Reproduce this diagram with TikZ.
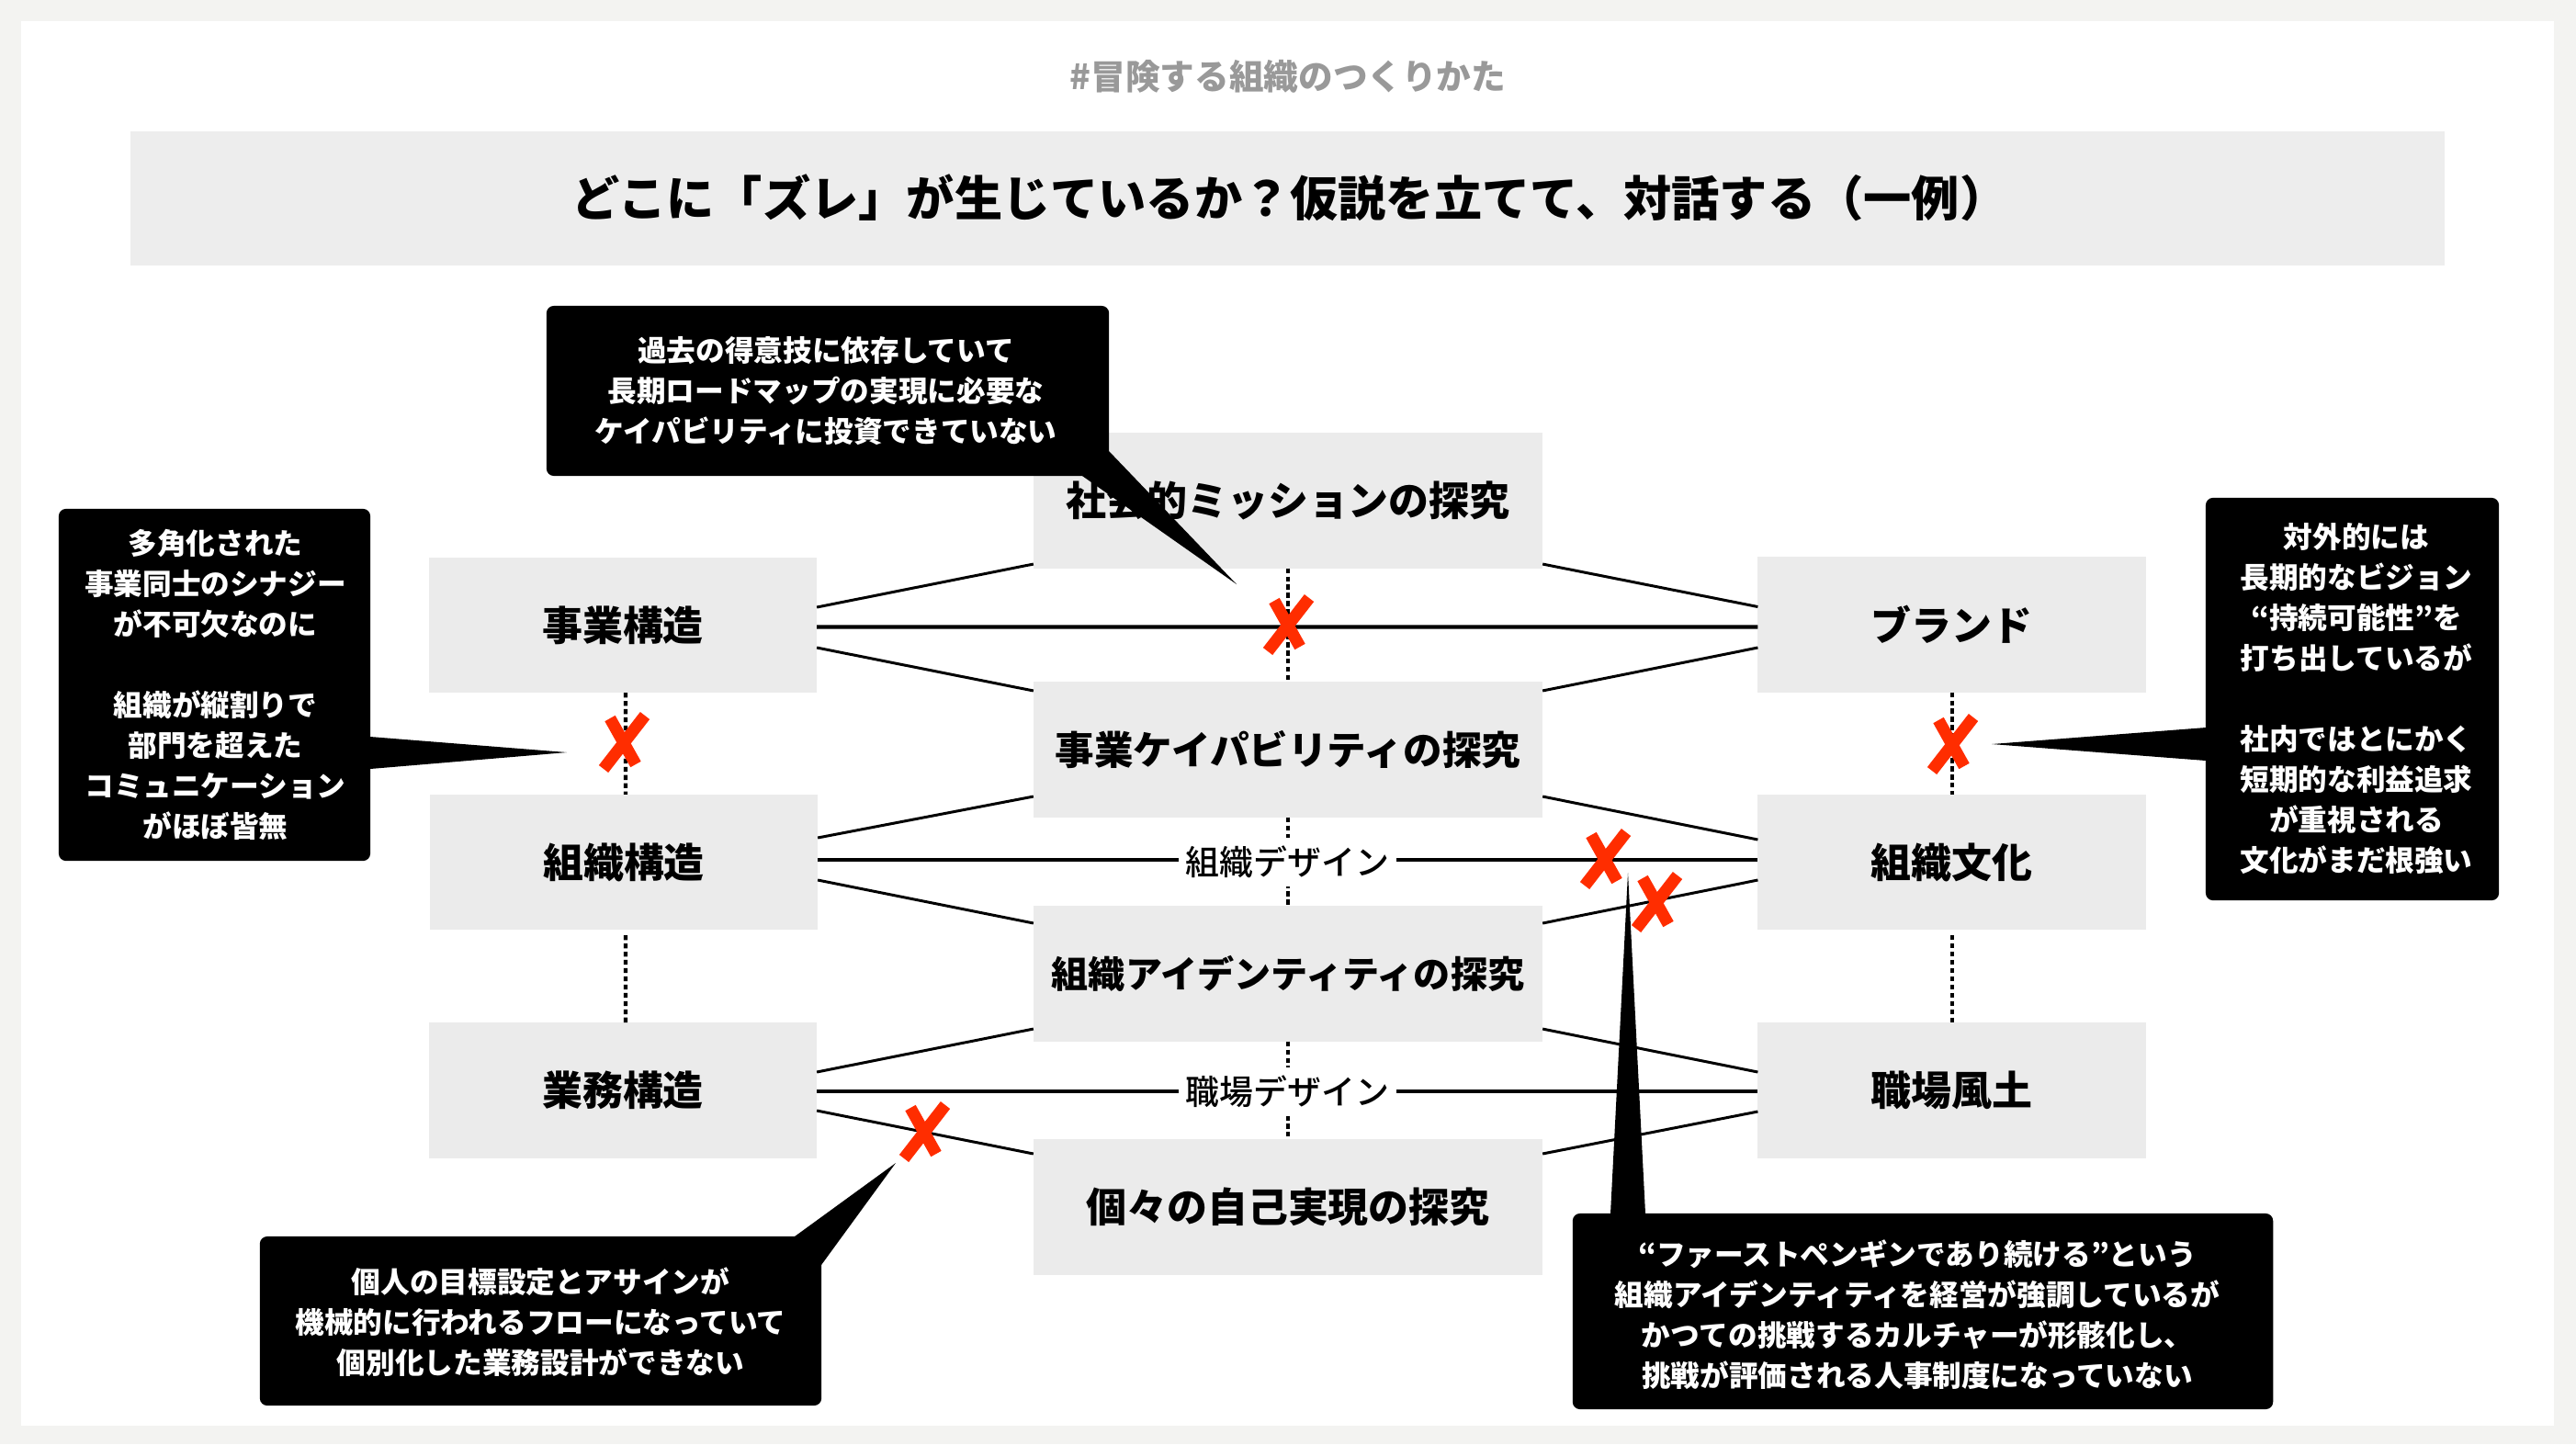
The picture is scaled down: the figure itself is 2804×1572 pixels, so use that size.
\documentclass[tikz,border=0pt]{standalone}
\usepackage{fontspec}
\setmainfont{Noto Sans CJK JP}
\newfontfamily\jpmed{Noto Sans CJK JP Medium}
\definecolor{pagebg}{HTML}{F3F3F1}
\definecolor{boxgray}{HTML}{EBEBEB}
\definecolor{bandgray}{HTML}{EDEDED}
\definecolor{markred}{HTML}{FF2D00}
\definecolor{topgray}{HTML}{999999}
\tikzset{
  lbox/.style={fill=boxgray,inner sep=0pt,outer sep=0pt,minimum width=4.22cm,minimum height=1.47cm,font=\fontsize{12.5}{15}\selectfont\bfseries},
  cbox/.style={lbox,minimum width=5.54cm},
  slant/.style={line width=0.85pt},
  flat/.style={line width=1.15pt},
  dots/.style={line width=1.15pt,dash pattern=on 1.5pt off 1.05pt},
  callout/.style={fill=black,rounded corners=0.08cm,inner sep=0pt,outer sep=0pt},
  callouttext/.style={text=white,inner sep=0pt,align=center,font=\fontsize{9}{12.5}\selectfont\bfseries},
  tailfill/.style={fill=black},
  midlabel/.style={fill=white,inner sep=0pt,minimum width=2.37cm,minimum height=0.53cm,font=\fontsize{10.5}{12}\selectfont\jpmed},
  pics/crossmark/.style={code={
    \draw[markred,line width=3.7pt] (-15,-26) -- (13,24);
    \draw[markred,line width=3.7pt] (23,-29) -- (-22,29);
  }}
}
\begin{document}
\begin{tikzpicture}[x=0.01cm,y=-0.01cm]
\useasboundingbox (0,0) rectangle (2804,1572);
\fill[pagebg] (0,0) rectangle (2804,1572);
\fill[white] (23,23) rectangle (2780,1552);
\node[font=\fontsize{10.7}{12}\selectfont\bfseries,text=topgray] (tag) at (1402,83) {\#冒険する組織のつくりかた};
\node[fill=bandgray,inner sep=0pt,minimum width=25.17cm,minimum height=1.46cm] (band) at (1401.5,216) {};
\node[font=\fontsize{14.85}{18}\selectfont\bfseries] (title) at (1404,215) {どこに「ズレ」が生じているか？仮説を立てて、対話する（一例）};
% boxes
\node[lbox] (jigyo) at (678,680.5) {事業構造};
\node[lbox] (soshiki) at (679,938.5) {組織構造};
\node[lbox] (gyomu) at (678,1187) {業務構造};
\node[cbox] (mission) at (1402,545) {社会的ミッションの探究};
\node[cbox,font=\fontsize{12.1}{15}\selectfont\bfseries] (capa) at (1402,816) {事業ケイパビリティの探究};
\node[cbox,font=\fontsize{11.4}{15}\selectfont\bfseries] (ident) at (1402,1060) {組織アイデンティティの探究};
\node[cbox] (self) at (1402,1314) {個々の自己実現の探究};
\node[lbox] (brand) at (2124.5,680) {ブランド};
\node[lbox] (bunka) at (2124.5,938.5) {組織文化};
\node[lbox] (fudo) at (2124.5,1187) {職場風土};
% dotted verticals
\draw[dots] ([xshift=0.03cm]jigyo.south) -- ([xshift=0.02cm]soshiki.north);
\draw[dots] ([xshift=0.02cm,yshift=-0.06cm]soshiki.south) -- ([xshift=0.03cm]gyomu.north);
\draw[dots] (brand.south) -- (bunka.north);
\draw[dots] ([yshift=-0.06cm]bunka.south) -- (fudo.north);
\draw[dots] (mission.south) -- (capa.north);
\draw[dots] (capa.south) -- (ident.north);
\draw[dots] (ident.south) -- (self.north);
% slanted connectors
\draw[slant] ([yshift=0.195cm]jigyo.east) -- ([yshift=-0.69cm]mission.west);
\draw[slant] ([yshift=-0.245cm]jigyo.east) -- ([yshift=0.64cm]capa.west);
\draw[slant] ([yshift=0.195cm]brand.west) -- ([yshift=-0.69cm]mission.east);
\draw[slant] ([yshift=-0.25cm]brand.west) -- ([yshift=0.64cm]capa.east);
\draw[slant] ([yshift=0.265cm]soshiki.east) -- ([yshift=-0.51cm]capa.west);
\draw[slant] ([yshift=-0.195cm]soshiki.east) -- ([yshift=0.55cm]ident.west);
\draw[slant] ([yshift=0.245cm]bunka.west) -- ([yshift=-0.51cm]capa.east);
\draw[slant] ([yshift=-0.195cm]bunka.west) -- ([yshift=0.55cm]ident.east);
\draw[slant] ([yshift=0.2cm]gyomu.east) -- ([yshift=-0.6cm]ident.west);
\draw[slant] ([yshift=-0.22cm]gyomu.east) -- ([yshift=0.58cm]self.west);
\draw[slant] ([yshift=0.2cm]fudo.west) -- ([yshift=-0.6cm]ident.east);
\draw[slant] ([yshift=-0.23cm]fudo.west) -- ([yshift=0.58cm]self.east);
% horizontal connectors
\draw[flat] ([yshift=-0.02cm]jigyo.east) -- ([yshift=-0.025cm]brand.west);
\draw[flat] ([yshift=0.03cm]soshiki.east) -- ([yshift=0.03cm]bunka.west);
\draw[flat] ([yshift=-0.01cm]gyomu.east) -- ([yshift=-0.01cm]fudo.west);
\node[midlabel] (dsoshiki) at (1401.5,938) {組織デザイン};
\node[midlabel] (dshokuba) at (1401.5,1188) {職場デザイン};
% callouts
\fill[tailfill] (1753,1321) -- (1772,950) -- (1791,1321) -- cycle;
\fill[tailfill] (403,802) -- (617,819) -- (403,837) -- cycle;
\fill[tailfill] (1207,491) -- (1346,636) -- (1178,518) -- cycle;
\fill[tailfill] (2401,792) -- (2168,810) -- (2401,828) -- cycle;
\fill[tailfill] (865,1346) -- (975,1266) -- (894,1377) -- cycle;
\node[callout,minimum width=6.12cm,minimum height=1.85cm] (c1) at (901,425.5) {};
\node[callouttext] (t1) at (899,425.5) {過去の得意技に依存していて\\長期ロードマップの実現に必要な\\ケイパビリティに投資できていない};
\node[callout,minimum width=3.39cm,minimum height=3.83cm] (c2) at (233.5,745.5) {};
\node[callouttext] (t2) at (234.5,745.5) {多角化された\\事業同士のシナジー\\が不可欠なのに\\~\\組織が縦割りで\\部門を超えた\\コミュニケーション\\がほぼ皆無};
\node[callout,minimum width=3.19cm,minimum height=4.38cm] (c3) at (2560.5,761) {};
\node[callouttext] (t3) at (2565,760.5) {対外的には\\長期的なビジョン\\“持続可能性”を\\打ち出しているが\\~\\社内ではとにかく\\短期的な利益追求\\が重視される\\文化がまだ根強い};
\node[callout,minimum width=6.11cm,minimum height=1.84cm] (c4) at (588.5,1438) {};
\node[callouttext] (t4) at (588.5,1439.5) {個人の目標設定とアサインが\\機械的に行われるフローになっていて\\個別化した業務設計ができない};
\node[callout,minimum width=7.62cm,minimum height=2.13cm] (c5) at (2093,1427.5) {};
\node[callouttext] (t5) at (2087,1431) {“ファーストペンギンであり続ける”という\\組織アイデンティティを経営が強調しているが\\かつての挑戦するカルチャーが形骸化し、\\挑戦が評価される人事制度になっていない};
% marks
\pic at (1402,680) {crossmark};
\pic at (679,808) {crossmark};
\pic at (2125,810) {crossmark};
\pic at (1747,935) {crossmark};
\pic at (1803,982) {crossmark};
\pic at (1006,1232) {crossmark};
\end{tikzpicture}
\end{document}
